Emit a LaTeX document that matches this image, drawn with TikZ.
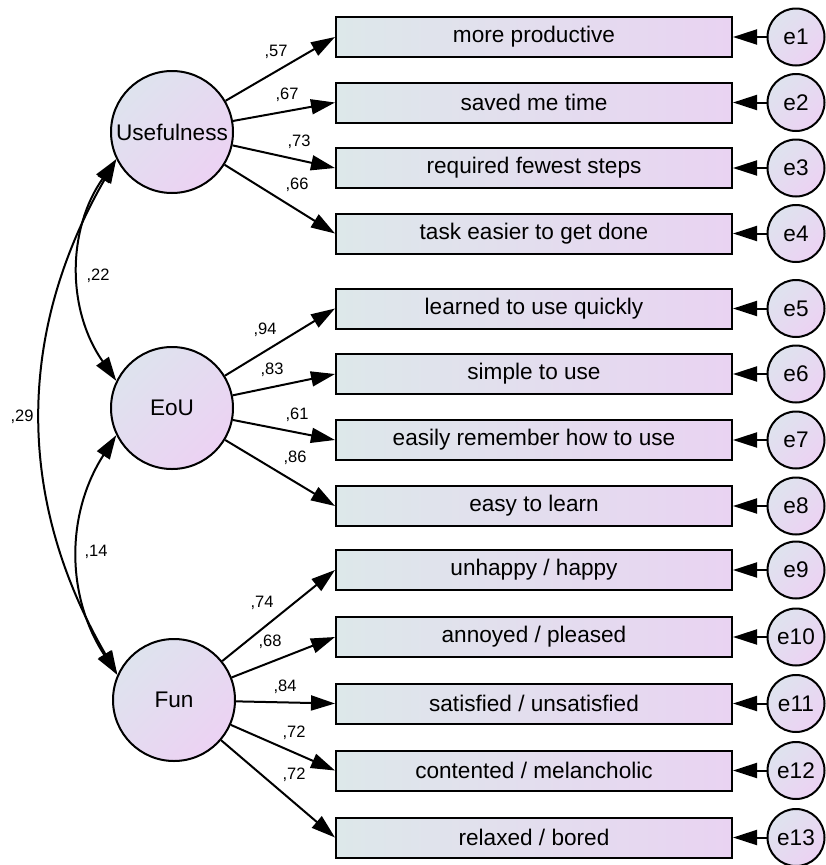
\documentclass[tikz,border=0pt]{standalone}
\usepackage{fontspec}
\setmainfont{Liberation Sans}
\usetikzlibrary{arrows.meta,positioning,calc}
\definecolor{boxleft}{RGB}{221,232,234}
\definecolor{boxright}{RGB}{233,211,242}
\definecolor{circtop}{RGB}{222,227,238}
\definecolor{circbot}{RGB}{236,210,243}
\tikzset{
  semnode/.style = {draw, line width=2pt, inner sep=0pt,
                    font=\fontsize{22.6}{27}\selectfont},
  latent/.style  = {semnode, circle, minimum size=122pt,
                    top color=circtop, bottom color=circbot, shading angle=45},
  errnode/.style = {semnode, circle, minimum size=57pt,
                    top color=circtop, bottom color=circbot, shading angle=45},
  indic/.style   = {semnode, rectangle, minimum width=396pt, minimum height=40pt,
                    left color=boxleft, right color=boxright},
  load/.style    = {-{Triangle[length=24pt,width=15pt]}, line width=2pt},
  corr/.style    = {{Triangle[length=24pt,width=15pt]}-{Triangle[length=24pt,width=15pt]},
                    line width=2pt},
  coef/.style    = {font=\fontsize{16.5}{20}\selectfont, inner sep=0pt}
}
\begin{document}
\begin{tikzpicture}[x=1pt,y=-1pt]
\useasboundingbox (0,0) rectangle (826,865);

% --- latent factors ---
\node[latent] (use) at (172,132) {Usefulness};
\node[latent] (eou) at (172,408) {EoU};
\node[latent] (fun) at (174,700) {Fun};

% --- indicator boxes with their error terms ---
\foreach \y/\name [count=\i] in {37/{more productive}, 102.5/{saved me time},
    168/{required fewest steps}, 233.5/{task easier to get done},
    308.5/{learned to use quickly}, 374/{simple to use},
    440/{easily remember how to use}, 506/{easy to learn},
    570/{unhappy / happy}, 637/{annoyed / pleased},
    703.5/{satisfied / unsatisfied}, 770.5/{contented / melancholic},
    837.5/{relaxed / bored}}{
  \node[indic] (b\i) at (534,\y) {\name};
  \node[errnode] (e\i) at (796,\y) {e\i};
  \draw[load] (e\i) -- (b\i.east);
}

% --- loadings: Usefulness ---
\foreach \i/\v/\lx/\ly in {1/57/276/52, 2/67/287/95, 3/73/299/142, 4/66/297/185}{
  \draw[load] (use) -- (b\i.west);
  \node[coef] (c\i) at (\lx,\ly) {,\v};
}

% --- loadings: EoU ---
\foreach \i/\v/\lx/\ly in {5/94/265/330, 6/83/272/370, 7/61/297/415, 8/86/295/458}{
  \draw[load] (eou) -- (b\i.west);
  \node[coef] (c\i) at (\lx,\ly) {,\v};
}

% --- loadings: Fun ---
\foreach \i/\v/\lx/\ly in {9/74/262/603, 10/68/270/642, 11/84/285/687,
    12/72/294/733, 13/72/294/775}{
  \draw[load] (fun) -- (b\i.west);
  \node[coef] (c\i) at (\lx,\ly) {,\v};
}

% --- correlations between factors ---
\draw[corr] (use.206) to[bend right=35] (eou.154);
\draw[corr] (eou.206) to[bend right=33] (fun.156);
\draw[corr] (use.206) to[bend right=30] (fun.156);
\node[coef] (r1) at (98,276) {,22};
\node[coef] (r2) at (96,552) {,14};
\node[coef] (r3) at (22,417) {,29};

\end{tikzpicture}
\end{document}
